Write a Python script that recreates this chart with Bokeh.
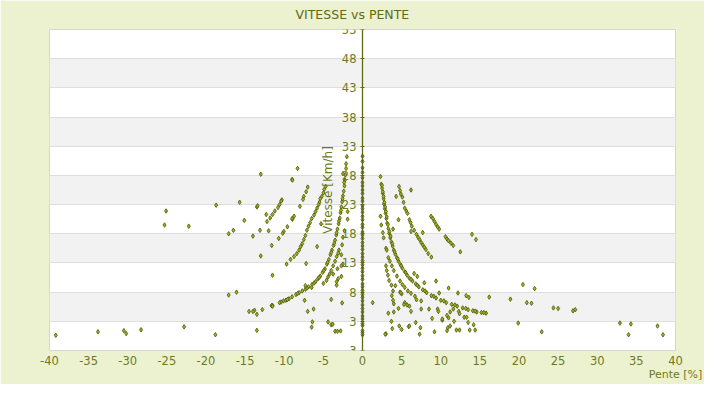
from bokeh.plotting import figure
from bokeh.models import FixedTicker, Range1d, ColumnDataSource
from bokeh.embed import file_html
from bokeh.resources import INLINE

# ---------------- data (pente %, vitesse km/h) ----------------
zero_y = [0.7, 1.1, 1.4, 2.3, 2.6, 3.4, 3.9, 4.6, 5.2, 5.8, 6.5, 7.1, 7.6, 8.3, 8.9, 9.4,
          10.2, 10.8, 11.5, 12.1, 12.7, 13.4, 14.0, 14.6, 15.3, 15.9, 16.5, 17.2, 17.8,
          18.3, 19.1, 19.6, 20.4, 21.0, 21.7, 22.3, 22.8, 23.6, 24.1, 24.9, 25.5, 26.2,
          26.8, 27.6, 28.5, 29.3, 30.4, 31.3]

right_curve_x = [2.4, 2.5, 2.6, 2.7, 2.75, 2.85, 2.95, 3.05, 3.15, 3.3, 3.4, 3.55, 3.7, 3.85,
                 4.0, 4.2, 4.4, 4.6, 4.85, 5.1, 5.4, 5.7, 6.0, 6.4, 6.8, 7.2, 7.7, 8.2, 8.8,
                 9.4, 10.0, 10.7, 11.4, 12.1, 12.8, 13.5, 14.1, 14.6, 15.2, 15.8,
                 2.5, 2.6, 2.7, 2.8, 2.9, 3.0, 3.1, 3.25, 3.45, 3.6, 3.8, 4.1, 4.5, 4.95,
                 5.5, 6.2, 7.0, 8.0, 9.1, 10.4, 11.8, 13.2, 14.4, 15.5]
right_curve_y = [26.5, 25.8, 24.9, 24.0, 23.1, 22.3, 21.5, 20.6, 19.8, 18.9, 18.1, 17.3, 16.6, 15.9,
                 15.2, 14.5, 13.9, 13.3, 12.7, 12.1, 11.5, 10.9, 10.4, 9.9, 9.4, 8.9, 8.4, 7.9, 7.4,
                 7.0, 6.6, 6.2, 5.9, 5.6, 5.3, 5.0, 4.8, 4.6, 4.5, 4.4,
                 26.3, 25.2, 24.4, 23.4, 22.6, 21.8, 20.9, 19.6, 18.4, 17.6, 16.3, 14.9, 13.7, 12.5,
                 11.4, 10.2, 9.2, 8.2, 7.3, 6.5, 5.8, 5.2, 4.75, 4.5]

right_upper_x = [4.67, 4.8, 4.9, 5.1, 5.25, 5.4, 5.6, 5.75, 6.0, 6.15, 6.3, 6.6, 6.9, 7.1, 7.3,
                 7.5, 7.7, 7.9, 8.1, 8.4, 8.8,
                 8.75, 9.0, 9.2, 9.4, 9.6, 9.8, 10.6, 10.8, 11.0, 11.3, 11.6,
                 12.5, 14.0, 14.5]
right_upper_y = [26.1, 25.4, 24.8, 24.3, 23.4, 22.4, 21.9, 21.5, 20.4, 19.9, 19.3, 18.6, 17.9, 17.4, 17.0,
                 16.5, 16.1, 15.7, 15.3, 14.6, 14.0,
                 21.0, 20.6, 20.1, 19.6, 19.2, 18.8, 17.5, 17.1, 16.8, 16.4, 16.0,
                 14.9, 17.9, 17.0]

right_other_x = [2.3, 2.3, 2.4, 2.6, 2.7, 4.3, 6.2, 4.6, 3.9, 6.2, 7.7,
                 3.0, 3.1, 3.3, 3.5, 3.75, 4.0,
                 3.0, 3.1, 3.25, 3.4, 3.7, 3.9,
                 4.8, 5.1, 5.4, 5.8, 6.2, 4.8, 5.0,
                 3.75, 3.9, 4.0, 5.4, 5.7, 6.0, 6.7, 6.9,
                 6.6, 7.0, 7.9, 9.4, 11.0, 9.8, 12.2, 13.25, 13.6, 16.2,
                 6.2, 7.5, 8.5, 9.6, 9.7, 11.2, 11.6, 12.3, 13.0, 13.3, 13.5, 14.2,
                 3.3, 4.0, 4.6, 3.7, 4.7, 3.8, 5.0, 5.9, 6.0, 6.8, 7.4, 7.3, 9.2, 8.9,
                 10.2, 10.8, 10.9, 11.2, 11.7, 12.0, 12.4, 13.7, 14.4, 3.0, 2.9, 1.3,
                 4.4, 4.2, 4.9, 5.3, 7.5, 10.8, 11.0, 12.4, 10.2,
                 20.5, 22.0, 18.9, 21.0, 21.6, 24.4, 25.0, 26.9, 27.2, 19.9, 22.9,
                 32.9, 34.3, 34.0, 37.7, 38.4]
right_other_y = [27.8, 21.0, 19.5, 18.2, 17.3, 24.4, 25.5, 20.4, 18.8, 18.4, 18.2,
                 15.5, 15.2, 13.9, 13.3, 12.5, 11.7,
                 12.5, 11.7, 10.9, 10.0, 9.2, 8.2,
                 9.9, 9.3, 8.8, 8.2, 7.8, 8.0, 7.7,
                 7.4, 6.6, 6.0, 6.2, 5.8, 5.6, 7.3, 6.7,
                 11.2, 10.7, 9.6, 9.9, 8.7, 7.85, 7.85, 7.4, 7.1, 7.15,
                 4.7, 5.1, 5.1, 5.1, 4.7, 4.6, 5.1, 4.7, 3.7, 3.7, 2.8, 2.4,
                 4.4, 4.6, 5.2, 3.0, 2.2, 1.75, 1.6, 2.1, 2.2, 2.8, 1.9, 0.8, 1.2, 3.5,
                 3.2, 1.4, 1.9, 2.2, 3.0, 1.5, 1.5, 1.5, 1.5, 0.85, 0.8, 6.2,
                 10.75, 9.1, 7.9, 5.9, 6.5, 4.0, 3.6, 4.3, 3.4,
                 9.3, 8.6, 6.8, 6.2, 6.1, 5.3, 5.2, 4.8, 5.0, 2.7, 1.2,
                 2.7, 2.55, 0.7, 2.2, 0.7]

left_curve_x = [-2.2, -2.25, -2.3, -2.4, -2.5, -2.6, -2.7, -2.8, -2.9, -3.05, -3.2, -3.35, -3.5,
                -3.7, -3.9, -4.1, -4.3, -4.55, -4.8, -5.1, -5.4, -5.7, -6.0, -6.45, -6.9, -7.3,
                -7.7, -8.1, -8.5, -9.0, -9.4, -9.8, -10.1, -10.4, -10.6, -11.5, -11.6, -12.8,
                -13.8, -14.0, -14.5, -13.5,
                -2.35, -2.55, -2.75, -3.0, -3.3, -3.6, -4.0, -4.45, -4.95, -5.55, -6.2, -7.1,
                -8.3, -9.6]
left_curve_y = [28.1, 27.2, 26.2, 25.3, 24.5, 23.5, 22.6, 21.6, 20.7, 19.7, 18.8, 17.8, 16.9,
                16.0, 15.2, 14.4, 13.6, 12.8, 12.0, 11.4, 10.75, 10.3, 9.8, 9.3, 8.9, 8.5,
                8.2, 7.9, 7.6, 7.2, 6.85, 6.6, 6.5, 6.3, 6.2, 5.7, 5.65, 5.0,
                4.9, 4.7, 4.7, 4.2,
                26.8, 24.0, 22.0, 20.2, 18.2, 16.4, 14.8, 13.1, 11.7, 10.5, 9.55, 8.7,
                7.75, 6.75]

left_upper_x = [-4.7, -4.9, -5.0, -5.2, -5.4, -5.5, -5.6, -5.8, -6.0, -6.2, -6.5, -6.7, -6.9,
                -7.1, -7.3, -7.5, -7.7, -7.9, -8.1, -8.4, -8.75, -9.2, -9.7,
                -7.0, -7.2, -7.5, -7.6, -8.0, -8.75, -8.95, -9.0, -9.6, -10.05, -10.2, -10.7, -11.6,
                -10.3, -10.4, -10.6, -10.8, -11.2, -11.5, -11.8, -12.3, -12.2]
left_upper_y = [26.1, 25.6, 25.0, 24.4, 24.0, 23.4, 23.0, 22.4, 21.8, 21.2, 20.6, 19.9, 19.3,
                18.6, 17.7, 17.0, 16.3, 15.8, 15.2, 14.6, 14.1, 13.6, 12.8,
                26.0, 25.2, 24.4, 23.9, 22.7, 21.0, 20.5, 20.6, 19.2, 18.4, 18.1, 17.2, 16.0,
                23.8, 23.6, 23.0, 22.5, 21.9, 21.3, 20.7, 21.3, 20.1]

left_other_x = [-3.0, -3.1, -3.3, -3.5, -3.75, -4.0, -4.2, -4.4, -4.6, -5.0,
                -2.0, -2.1, -2.1, -2.5, -1.9, -1.9, -2.3, -2.5, -2.6, -2.7, -2.5, -2.7, -3.2,
                -3.75, -2.7, -3.1, -3.3, -3.3, -4.0, -2.6, -4.4, -4.0, -3.8, -3.5, -3.2, -2.8,
                -5.3, -5.8, -8.3, -9.0, -8.95,
                -12.0, -13.1, -14.0, -15.1, -13.5, -13.4, -15.7, -13.0, -13.0, -11.5, -11.6,
                -7.4, -7.0, -6.25, -6.4, -6.5, -7.3, -6.5, -7.2, -13.5, -16.1, -17.1, -11.5,
                -25.1, -25.3, -22.2, -18.7, -17.1, -16.5,
                -39.2, -33.8, -30.5, -30.2, -28.3, -22.8, -18.8]
left_other_y = [15.2, 14.7, 14.1, 13.3, 12.5, 11.7, 11.1, 10.6, 10.0, 9.5,
                31.2, 30.0, 29.2, 28.3, 21.8, 20.5, 18.5, 17.4, 16.1, 14.4, 12.8, 12.5, 12.0,
                11.1, 10.7, 10.3, 9.8, 9.2, 6.75, 6.15, 2.9, 2.4, 2.5, 1.3, 1.3, 1.35,
                19.7, 15.8, 29.2, 27.3, 27.2,
                18.5, 18.6, 17.6, 20.3, 22.6, 22.8, 23.4, 28.2, 14.2, 10.9, 5.7,
                6.6, 4.7, 5.1, 2.9, 2.0, 9.1, 8.8, 12.9, 1.45, 8.0, 7.5, 5.6,
                21.9, 19.5, 19.3, 22.9, 18.0, 18.6,
                0.6, 1.2, 1.4, 0.9, 1.55, 2.05, 0.7]

x_ticks = list(range(-40, 45, 5))
x_tick_labels = [str(t) for t in x_ticks]   # plain hyphen-minus, as in the reference
y_ticks = [-2, 3, 8, 13, 18, 23, 28, 33, 38, 43, 48, 53]
y_tick_labels = ["3", "3", "8", "13", "18", "23", "28", "33", "38", "43", "48", "53"]

# ---------------- figure ----------------
BG = "#ECF1CF"
OLIVE = "#5E6B12"
LABEL = "#6E7A22"

all_x = [0.0] * len(zero_y) + right_curve_x + right_upper_x + right_other_x \
    + left_curve_x + left_upper_x + left_other_x
all_y = zero_y + right_curve_y + right_upper_y + right_other_y \
    + left_curve_y + left_upper_y + left_other_y
src = ColumnDataSource(dict(x=all_x, y=all_y))

p = figure(width=704, height=384, output_backend="svg", toolbar_location=None,
           x_range=Range1d(-40, 40), y_range=Range1d(-2, 53),
           min_border_left=49, min_border_right=29, min_border_top=29, min_border_bottom=34)
p.title.text = "VITESSE vs PENTE"
p.title.align = "left"
p.title.offset = 246
p.title.vertical_align = "top"
p.title.text_color = OLIVE
p.title.text_font = "DejaVu Sans"
p.title.text_font_size = "12.5px"
p.title.text_font_style = "normal"
p.title.standoff = 11

p.background_fill_color = "white"
p.border_fill_color = BG
p.outline_line_color = "#D6D6D6"
p.outline_line_width = 1

p.xgrid.visible = False
p.ygrid.ticker = FixedTicker(ticks=y_ticks)
p.ygrid.grid_line_color = "#DEDEDE"
p.ygrid.band_fill_color = "#F2F2F2"
p.ygrid.band_fill_alpha = 1.0

xa = p.xaxis[0]
xa.ticker = FixedTicker(ticks=x_ticks)
xa.major_label_overrides = dict(zip(x_ticks, x_tick_labels))
xa.axis_line_color = None
xa.major_tick_line_color = None
xa.major_tick_in = 0
xa.major_tick_out = 0
xa.minor_tick_line_color = None
xa.minor_tick_in = 0
xa.minor_tick_out = 0
xa.major_label_text_color = LABEL
xa.major_label_text_font = "DejaVu Sans"
xa.major_label_text_font_size = "11.5px"
xa.major_label_standoff = 5
xa.axis_label = "Pente [%]"
xa.axis_label_text_color = LABEL
xa.axis_label_text_font = "DejaVu Sans"
xa.axis_label_text_font_size = "11px"
xa.axis_label_text_font_style = "normal"
xa.axis_label_standoff = 0
try:
    xa.axis_label_align = "end"
    xa.axis_label_text_align = "right"
except Exception:
    pass

ya = p.yaxis[0]
ya.fixed_location = 0
ya.ticker = FixedTicker(ticks=y_ticks)
ya.major_label_overrides = dict(zip(y_ticks, y_tick_labels))
ya.axis_line_color = OLIVE
ya.axis_line_width = 1.3
ya.major_tick_line_color = OLIVE
ya.major_tick_in = 2
ya.major_tick_out = 2
ya.minor_tick_line_color = None
ya.major_label_text_color = LABEL
ya.major_label_text_font = "DejaVu Sans"
ya.major_label_text_font_size = "11.5px"
ya.major_label_standoff = 4
ya.axis_label = "Vitesse [Km/h]"
ya.axis_label_text_color = LABEL
ya.axis_label_text_font = "DejaVu Sans"
ya.axis_label_text_font_size = "12px"
ya.axis_label_text_font_style = "normal"
ya.axis_label_standoff = 4

p.scatter("x", "y", source=src, marker="diamond", size=4.5,
          fill_color="#A3B224", line_color="#56620A", line_width=0.9)

html = file_html(p, INLINE)
html = html.replace("<body>", '<body style="background-color:%s;">' % BG, 1)
open("out.html", "w").write(html)
